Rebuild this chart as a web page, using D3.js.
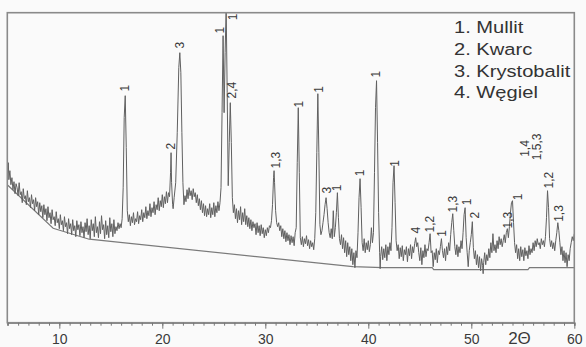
<!DOCTYPE html>
<html><head><meta charset="utf-8">
<script src="https://cdn.jsdelivr.net/npm/d3@7"></script>
<style>html,body{margin:0;padding:0;background:#fafafa;} svg{display:block;font-family:"Liberation Sans",Arial,sans-serif;}</style>
</head><body><svg id="c" width="586" height="347"></svg>
<script>
// XRD pattern: [2theta, intensity]
const pattern = [
[5.0,150],[5.05,160],[5.1,143],[5.2,152],[5.3,138],[5.4,145],[5.5,133],[5.6,141],[5.7,129],[5.8,139],[5.9,135],[6.0,127],[6.1,140],
[6.2,128],[6.3,131],[6.4,120],[6.5,134],[6.6,124],[6.7,127],[6.8,118],[6.9,132],[7.0,121],[7.1,125],[7.2,115],[7.3,128],[7.4,119],
[7.5,123],[7.6,112],[7.7,125],[7.8,116],[7.9,121],[8.0,108],[8.1,120],[8.2,111],[8.3,117],[8.4,105],[8.5,118],[8.6,108],[8.7,114],
[8.8,102],[8.9,116],[9.0,105],[9.1,110],[9.2,99],[9.3,113],[9.4,103],[9.5,106],[9.6,97],[9.7,111],[9.8,100],[9.9,104],[10.0,94],
[10.1,108],[10.2,98],[10.3,102],[10.4,92],[10.5,106],[10.6,96],[10.7,100],[10.8,89],[10.9,104],[11.0,94],[11.1,99],[11.2,88],
[11.3,103],[11.4,92],[11.5,97],[11.6,86],[11.7,102],[11.8,93],[11.9,98],[12.0,87],[12.1,101],[12.2,90],[12.3,96],[12.4,85],
[12.5,100],[12.6,91],[12.7,104],[12.8,88],[12.9,97],[13.0,84],[13.1,103],[13.2,92],[13.3,99],[13.4,86],[13.5,106],[13.6,90],
[13.7,96],[13.8,85],[13.9,101],[14.0,89],[14.1,107],[14.2,93],[14.3,98],[14.4,84],[14.5,102],[14.6,88],[14.7,97],[14.8,85],
[14.9,105],[15.0,91],[15.1,99],[15.2,86],[15.3,103],[15.4,89],[15.5,96],[15.6,92],[15.7,100],[15.8,94],[15.9,99],[16.0,95],
[16.1,104],[16.2,135],[16.3,205],[16.4,227],[16.5,175],[16.6,112],[16.7,101],[16.8,108],[16.9,97],[17.0,106],[17.1,100],[17.2,110],
[17.3,98],[17.4,104],[17.5,101],[17.6,111],[17.7,99],[17.8,107],[17.9,103],[18.0,113],[18.1,101],[18.2,110],[18.3,105],[18.4,116],
[18.5,104],[18.6,112],[18.7,107],[18.8,119],[18.9,106],[19.0,115],[19.1,110],[19.2,121],[19.3,108],[19.4,118],[19.5,113],[19.6,125],
[19.7,112],[19.8,122],[19.9,116],[20.0,128],[20.1,115],[20.2,126],[20.3,119],[20.4,131],[20.5,120],[20.6,130],[20.7,126],[20.8,150],
[20.85,170],[20.9,140],[21.0,118],[21.05,114],[21.15,125],[21.3,140],[21.45,190],[21.6,255],[21.7,270],[21.8,250],[21.9,190],
[22.0,140],[22.1,118],[22.2,127],[22.3,121],[22.4,133],[22.5,124],[22.6,135],[22.7,127],[22.8,132],[22.9,123],[23.0,134],[23.1,126],
[23.2,130],[23.3,120],[23.4,128],[23.5,117],[23.6,124],[23.7,113],[23.8,122],[23.9,110],[24.0,119],[24.1,107],[24.2,117],[24.3,106],
[24.4,114],[24.5,108],[24.6,119],[24.7,105],[24.8,115],[24.9,108],[25.0,120],[25.1,106],[25.2,117],[25.3,110],[25.4,121],[25.5,112],
[25.6,120],[25.7,135],[25.8,210],[25.9,287],[26.0,210],[26.1,270],[26.2,315],[26.3,230],[26.4,137],[26.5,180],[26.6,220],[26.7,180],
[26.8,125],[26.9,110],[27.0,118],[27.1,104],[27.2,114],[27.3,100],[27.4,112],[27.5,103],[27.6,116],[27.7,98],[27.8,110],[27.9,101],
[28.0,114],[28.1,98],[28.2,107],[28.3,96],[28.4,105],[28.5,94],[28.6,103],[28.7,92],[28.8,101],[28.9,95],[29.0,99],[29.1,88],
[29.2,100],[29.3,90],[29.4,97],[29.5,87],[29.6,98],[29.7,89],[29.8,95],[29.9,85],[30.0,93],[30.1,87],[30.2,95],[30.3,90],[30.4,97],
[30.5,95],[30.6,102],[30.7,118],[30.8,145],[30.85,152],[30.9,140],[31.0,112],[31.1,100],[31.2,96],[31.3,100],[31.4,92],[31.5,97],
[31.6,86],[31.7,94],[31.8,84],[31.9,92],[32.0,81],[32.1,90],[32.2,82],[32.3,88],[32.4,78],[32.5,87],[32.6,80],[32.7,86],[32.8,77],
[32.9,90],[33.0,95],[33.1,160],[33.2,215],[33.3,150],[33.4,85],[33.5,78],[33.6,86],[33.7,76],[33.8,84],[33.9,79],[34.0,87],[34.1,77],
[34.2,83],[34.3,74],[34.4,82],[34.5,76],[34.6,80],[34.7,73],[34.8,84],[34.9,110],[35.0,170],[35.1,229],[35.2,170],[35.3,98],
[35.4,88],[35.5,92],[35.6,100],[35.7,108],[35.8,118],[35.9,125],[36.0,114],[36.1,100],[36.2,90],[36.3,85],[36.4,94],[36.5,84],
[36.6,112],[36.7,86],[36.8,95],[36.9,110],[37.0,130],[37.1,105],[37.2,84],[37.3,78],[37.4,88],[37.5,74],[37.6,85],[37.7,70],
[37.8,82],[37.9,66],[38.0,80],[38.1,68],[38.2,76],[38.3,62],[38.4,74],[38.5,58],[38.6,70],[38.7,55],[38.8,72],[38.9,65],[39.0,90],
[39.1,125],[39.2,144],[39.3,115],[39.4,80],[39.5,72],[39.6,84],[39.7,70],[39.8,80],[39.9,73],[40.0,82],[40.1,71],[40.2,78],[40.3,95],
[40.4,80],[40.5,90],[40.6,150],[40.7,215],[40.8,242],[40.9,180],[41.0,110],[41.1,70],[41.15,54],[41.2,66],[41.3,76],[41.4,63],
[41.5,74],[41.6,65],[41.7,78],[41.8,62],[41.9,76],[42.0,68],[42.1,80],[42.2,72],[42.3,95],[42.4,140],[42.5,157],[42.6,120],[42.7,82],
[42.8,72],[42.9,78],[43.0,64],[43.1,75],[43.2,66],[43.3,77],[43.4,62],[43.5,73],[43.6,68],[43.7,76],[43.8,61],[43.9,74],[44.0,67],
[44.1,78],[44.2,64],[44.3,76],[44.4,70],[44.5,79],[44.6,85],[44.7,76],[44.8,80],[44.9,70],[45.0,62],[45.1,75],[45.2,58],[45.3,72],
[45.4,65],[45.5,78],[45.6,66],[45.7,74],[45.8,72],[45.9,80],[46.0,89],[46.1,70],[46.2,72],[46.3,56],[46.4,70],[46.5,63],[46.6,74],
[46.7,60],[46.8,72],[46.9,68],[47.0,76],[47.1,84],[47.2,72],[47.3,65],[47.4,74],[47.5,62],[47.6,76],[47.7,68],[47.8,80],[47.9,72],
[48.0,88],[48.1,100],[48.2,109],[48.3,92],[48.4,76],[48.5,68],[48.6,78],[48.7,66],[48.8,76],[48.9,70],[49.0,82],[49.1,74],[49.2,90],
[49.3,108],[49.4,115],[49.5,85],[49.6,70],[49.7,56],[49.8,72],[49.9,80],[50.0,88],[50.1,101],[50.2,75],[50.3,64],[50.4,72],[50.5,58],
[50.6,68],[50.7,55],[50.8,66],[50.9,52],[51.0,64],[51.1,57],[51.15,49],[51.2,60],[51.3,70],[51.4,58],[51.5,68],[51.6,62],[51.7,74],
[51.8,65],[51.9,80],[52.0,70],[52.1,89],[52.2,72],[52.3,78],[52.4,70],[52.5,82],[52.6,74],[52.7,86],[52.8,78],[52.9,84],[53.0,76],
[53.1,82],[53.2,88],[53.3,80],[53.4,90],[53.5,94],[53.6,85],[53.7,96],[53.8,110],[53.9,120],[54.0,122],[54.1,100],[54.2,80],
[54.3,70],[54.4,78],[54.5,64],[54.6,74],[54.7,62],[54.8,76],[54.9,66],[55.0,73],[55.1,62],[55.2,75],[55.3,67],[55.4,72],[55.5,64],
[55.6,77],[55.7,68],[55.8,74],[55.9,70],[56.0,80],[56.1,72],[56.2,82],[56.3,76],[56.4,84],[56.5,78],[56.6,80],[56.7,74],[56.8,84],
[56.9,78],[57.0,82],[57.1,76],[57.2,86],[57.3,105],[57.4,132],[57.5,115],[57.6,84],[57.7,76],[57.8,82],[57.9,74],[58.0,80],[58.1,72],
[58.2,82],[58.3,90],[58.4,100],[58.5,92],[58.6,80],[58.7,68],[58.8,76],[58.9,62],[59.0,72],[59.1,60],[59.2,70],[59.3,56],[59.4,68],
[59.5,62],[59.6,74],[59.7,80],[59.8,86],[59.9,82],[60.0,89]
];
// fitted background line
const background = [[5.0,137.5],[9.4,94.5],[12.9,83.5],[38.5,56],[41.4,55],[46.2,55],[46.35,53],[55.5,53],[55.65,55],[60.0,55]];
// peak annotations: [text, 2theta, intensity]
const peakLabels = [
["1",16.38,234.5],["2",20.84,176.5],["3",21.69,277.5],["1",25.60,292.5],["1",26.83,305.8],["2,4",26.74,232.5],
["1,3",31.04,162.5],["1",33.27,218.5],["1",35.15,233.2],["3",35.96,132.5],["1",36.93,134.8],["1",39.19,149.8],
["1",40.72,248.5],["1",42.59,159.2],["4",44.63,92.5],["1,2",45.99,98.5],["1",47.13,89.2],["1,3",48.19,118.5],
["1",49.55,120.8],["2",50.36,107.5],["1,3",53.56,102.5],["1",54.53,125.8],["1,4",55.19,174.2],["1,5,3",56.35,175.8],
["1,2",57.57,142.5],["1,3",58.45,109.2]
];
const legendItems = ["1. Mullit","2. Kwarc","3. Krystobalit","4. Węgiel"];
const xTicks = [10,20,30,40,50,60];
const xLabel = "2Θ";

const svg = d3.select("#c");
const L = 7.3, R = 574.3, T = 12.7, B = 322.7;
const x = d3.scaleLinear().domain([4.95, 60]).range([L, R]);
const y = d3.scaleLinear().domain([0, 310]).range([B, T]);

svg.append("rect").attr("width",586).attr("height",347).attr("fill","#fafafa");
svg.append("defs").append("clipPath").attr("id","clip")
  .append("rect").attr("x",L).attr("y",T).attr("width",R-L).attr("height",B-T);

const line = d3.line().x(d=>x(d[0])).y(d=>y(d[1]));
const g = svg.append("g").attr("clip-path","url(#clip)");
g.append("path").datum(background).attr("d",line).attr("fill","none").attr("stroke","#7a7a7a").attr("stroke-width",1.2);
g.append("path").datum(pattern).attr("d",line).attr("fill","none").attr("stroke","#606060").attr("stroke-width",1).attr("stroke-linejoin","round");

// frame
svg.append("rect").attr("x",L).attr("y",T).attr("width",R-L).attr("height",B-T)
  .attr("fill","none").attr("stroke","#8a8a8a").attr("stroke-width",1.6);

// bottom axis
const minor = d3.range(5, 61, 1);
const ax = svg.append("g").attr("transform",`translate(0,${B})`);
ax.call(d3.axisBottom(x).tickValues(minor).tickSize(3).tickFormat(""))
  .call(s=>s.select(".domain").attr("stroke","#8a8a8a").attr("stroke-width",1.6))
  .call(s=>s.selectAll(".tick line").attr("stroke","#777"));
const ax2 = svg.append("g").attr("transform",`translate(0,${B})`);
ax2.call(d3.axisBottom(x).tickValues(xTicks).tickSize(6).tickPadding(5).tickFormat(d3.format("d")))
  .call(s=>s.select(".domain").remove())
  .call(s=>s.selectAll(".tick line").attr("stroke","#777"))
  .call(s=>s.selectAll(".tick text").attr("font-size",14).attr("fill","#3a3a3a").attr("font-family","'Liberation Sans',Arial,sans-serif"));

svg.append("text").attr("x",519.5).attr("y",344).attr("text-anchor","middle")
  .attr("font-size",17).attr("fill","#3a3a3a").text(xLabel);

// peak labels
svg.append("g").selectAll("text").data(peakLabels).join("text")
  .attr("transform",d=>`translate(${x(d[1])},${y(d[2])}) rotate(-90)`)
  .attr("text-anchor","middle").attr("dy","0.35em")
  .attr("font-size",12).attr("fill","#3a3a3a").text(d=>d[0]);

// legend
const lg = svg.append("g").attr("transform","translate(454,0) scale(1.22,1)");
lg.selectAll("text").data(legendItems).join("text")
  .attr("x",0).attr("y",(d,i)=>33.3+i*21.7)
  .attr("font-size",16.5).attr("fill","#333").text(d=>d);
</script></body></html>
